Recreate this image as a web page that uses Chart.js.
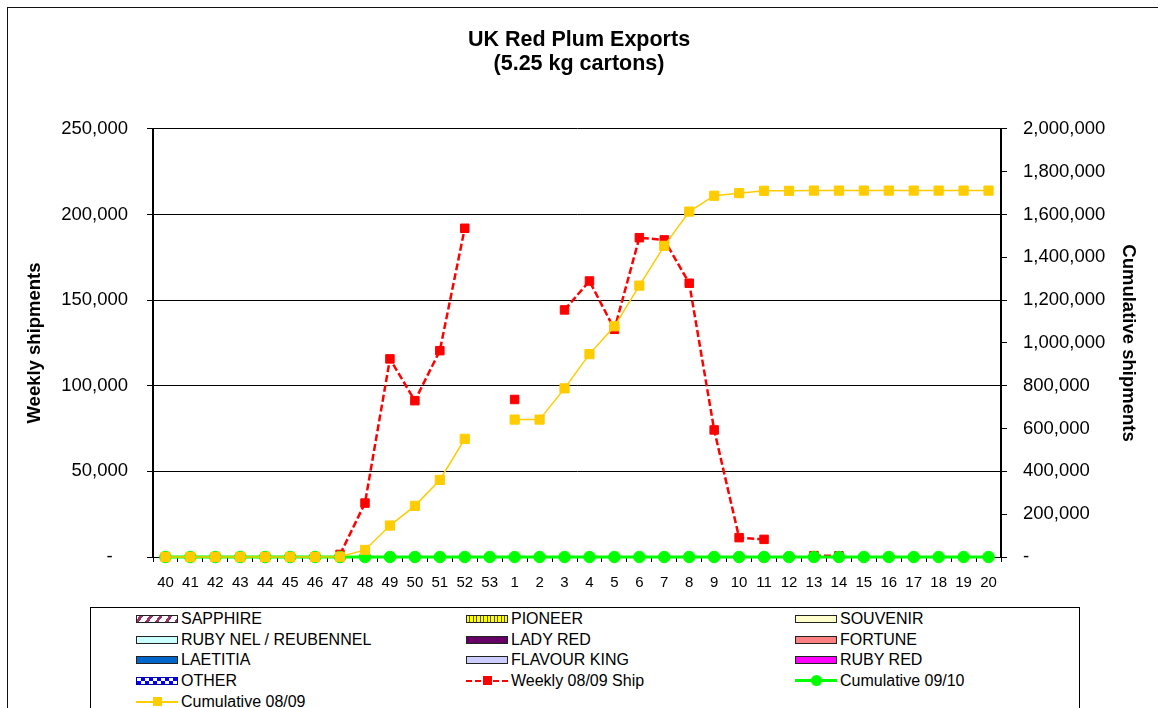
<!DOCTYPE html>
<html>
<head>
<meta charset="utf-8">
<script src="https://cdn.jsdelivr.net/npm/chart.js@4"></script>
<style>
html,body{margin:0;padding:0;background:#fff;}
#wrap{position:relative;width:1158px;height:708px;overflow:hidden;font-family:"Liberation Sans",Arial,sans-serif;background:#fff;}
#frame{position:absolute;left:7px;top:7px;width:1300px;height:900px;border-top:1px solid #111;border-left:1px solid #111;}
#c{position:absolute;left:0;top:0;}
#legend{position:absolute;left:90px;top:607px;width:988px;height:200px;border:1px solid #000;background:#fff;}
.item{position:absolute;height:20px;font-size:16px;line-height:20px;color:#000;white-space:nowrap;}
.sw{position:absolute;left:0;top:6px;width:40px;height:6px;border:1px solid #222;}
.ln{position:absolute;left:0;width:42px;}
.mk{position:absolute;}
.txt{position:absolute;left:45px;top:0;}
</style>
</head>
<body>
<div id="wrap">
  <div id="frame"></div>
  <canvas id="c" width="1158" height="708"></canvas>
  <div id="legend"></div>
</div>
<script>
// ---- data ----
const weeks = ['40','41','42','43','44','45','46','47','48','49','50','51','52','53',
               '1','2','3','4','5','6','7','8','9','10','11','12','13','14','15','16','17','18','19','20'];

const weekly0809 = [null,null,null,null,null,null,null,1500,31500,115700,91300,120500,192000,null,
                    92000,null,144300,161200,133000,186500,185200,159900,74200,11300,10300,null,800,700,null,null,null,null,null,null];

const cumulative0809 = [0,0,0,0,0,0,0,1500,33000,147000,239000,360000,552000,null,
                        642000,642000,788000,948000,1078000,1268000,1454000,1614000,1688000,1700000,1711000,1711000,1712000,1712000,1712000,1712000,1712000,1712000,1712000,1712000];

const cumulative0910 = [0,0,0,0,0,0,0,0,0,0,0,0,0,0,
                        0,0,0,0,0,0,0,0,0,0,0,0,0,0,0,0,0,0,0,0];

const noShipments = [null,null,null,null,null,null,null,null,null,null,null,null,null,null,
                     null,null,null,null,null,null,null,null,null,null,null,null,null,null,null,null,null,null,null,null];

const varieties = ['SAPPHIRE','PIONEER','SOUVENIR','RUBY NEL / REUBENNEL','LADY RED','FORTUNE',
                   'LAETITIA','FLAVOUR KING','RUBY RED','OTHER'];

const leftTicks = [0, 50000, 100000, 150000, 200000, 250000];
const rightTicksStep = 200000;

// ---- styles ----
const F = '"Liberation Sans", Arial, sans-serif';
const varietyColors = {
  'SAPPHIRE':'#993366','PIONEER':'#FFFF00','SOUVENIR':'#FFFFCC','RUBY NEL / REUBENNEL':'#CCFFFF',
  'LADY RED':'#660066','FORTUNE':'#FF8080','LAETITIA':'#0066CC','FLAVOUR KING':'#CCCCFF',
  'RUBY RED':'#FF00FF','OTHER':'#0000FF'
};
const legendFill = {
  'SAPPHIRE':'repeating-linear-gradient(125deg, #fff 0 2px, #993366 2px 5px, #fff 5px 8px)',
  'PIONEER':'repeating-linear-gradient(90deg, #FFFF00 0 2.5px, #555500 2.5px 3.5px)',
  'OTHER':'repeating-conic-gradient(#0000FF 0 25%, #fff 0 50%) 0 0 / 8px 6px'
};

const fmt = v => v.toLocaleString('en-US');

const datasets = varieties.map((name, i) => ({
  type:'bar', label:name, data:noShipments, yAxisID:'y',
  backgroundColor:varietyColors[name], borderColor:'#222', borderWidth:1, order:10+i
}));
datasets.push({
  type:'line', label:'Weekly 08/09 Ship', data:weekly0809, yAxisID:'y',
  borderColor:'#FF0000', backgroundColor:'#FF0000', borderWidth:2.5, borderDash:[7,3],
  pointStyle:'rect', pointRadius:6, pointBorderWidth:1, pointBackgroundColor:'#FF0000', pointBorderColor:'#FF0000',
  spanGaps:false, tension:0, clip:false, order:3
});
datasets.push({
  type:'line', label:'Cumulative 09/10', data:cumulative0910, yAxisID:'y2',
  borderColor:'#00FF00', backgroundColor:'#00FF00', borderWidth:3,
  pointStyle:'circle', pointRadius:5.8, pointBorderWidth:1, pointBackgroundColor:'#00FF00', pointBorderColor:'#00FF00',
  tension:0, clip:false, order:2
});
datasets.push({
  type:'line', label:'Cumulative 08/09', data:cumulative0809, yAxisID:'y2',
  borderColor:'#FFCC00', backgroundColor:'#FFCC00', borderWidth:1.5,
  pointStyle:'rect', pointRadius:6.5, pointBorderWidth:1, pointBackgroundColor:'#FFCC00', pointBorderColor:'#FFCC00',
  spanGaps:false, tension:0, clip:false, order:1
});

const chart = new Chart(document.getElementById('c'), {
  type:'bar',
  data:{ labels:weeks, datasets },
  options:{
    responsive:false, animation:false, devicePixelRatio:1,
    layout:{ padding:{ left:0, right:0, top:0, bottom:111 } },
    plugins:{
      legend:{ display:false },
      tooltip:{ enabled:false },
      title:{ display:true, text:['UK Red Plum Exports','(5.25 kg cartons)'], color:'#000',
        font:{ family:F, size:21.5, weight:'bold', lineHeight:1.12 }, padding:{ top:28, bottom:52.8 } }
    },
    scales:{
      x:{
        type:'category', offset:true,
        grid:{ offset:true, drawOnChartArea:false, drawTicks:true, tickLength:5, color:'#000', lineWidth:1 },
        border:{ display:true, color:'#000', width:1 },
        ticks:{ color:'#000', font:{ family:F, size:15 }, padding:11.5, maxRotation:0, autoSkip:false },
        afterFit(s){ s.height = 40; }
      },
      y:{
        position:'left', min:0, max:250000,
        afterBuildTicks(s){ s.ticks = leftTicks.map(v => ({ value:v })); },
        ticks:{ color:'#000', font:{ family:F, size:18.5 }, padding:19,
          callback:v => v === 0 ? '-   ' : fmt(v) },
        grid:{ color:'#000', lineWidth:1, tickLength:6, drawTicks:true },
        border:{ color:'#000', width:2 },
        title:{ display:true, text:'Weekly shipments', color:'#000',
          font:{ family:F, size:18.5, weight:'bold' }, padding:{ top:23.5, bottom:0 } },
        afterFit(s){ s.width = 153; }
      },
      y2:{
        position:'right', min:0, max:2000000,
        ticks:{ stepSize:rightTicksStep, color:'#000', font:{ family:F, size:18.5 }, padding:16,
          callback:v => v === 0 ? '-' : fmt(v) },
        grid:{ drawOnChartArea:false, color:'#000', lineWidth:1, tickLength:6, drawTicks:true },
        border:{ color:'#000', width:2 },
        title:{ display:true, text:'Cumulative shipments', color:'#000',
          font:{ family:F, size:18.5, weight:'bold' }, padding:{ top:19, bottom:0 } },
        afterFit(s){ s.width = 157; }
      }
    }
  }
});

// ---- HTML legend built from the chart's datasets ----
const legend = document.getElementById('legend');
const colLeft = [45, 375, 704];
chart.data.datasets.forEach((ds, i) => {
  const col = i % 3, row = Math.floor(i / 3);
  const item = document.createElement('div');
  item.className = 'item';
  item.style.left = colLeft[col] + 'px';
  item.style.top = (0.8 + row * 20.7) + 'px';
  if (ds.type === 'bar') {
    const sw = document.createElement('div');
    sw.className = 'sw';
    sw.style.background = legendFill[ds.label] || ds.backgroundColor;
    if (ds.label === 'OTHER') sw.style.borderColor = '#0000AA';
    item.appendChild(sw);
  } else {
    const ln = document.createElement('div');
    ln.className = 'ln';
    const w = Math.max(ds.borderWidth, 2);
    ln.style.height = w + 'px';
    ln.style.top = (10 - w / 2) + 'px';
    if (ds.borderDash) {
      ln.style.background = `repeating-linear-gradient(90deg, ${ds.borderColor} 0 6px, transparent 6px 9px)`;
    } else {
      ln.style.background = ds.borderColor;
    }
    item.appendChild(ln);
    const mk = document.createElement('div');
    mk.className = 'mk';
    const size = ds.pointStyle === 'circle' ? 11 : 9;
    mk.style.width = size + 'px';
    mk.style.height = size + 'px';
    mk.style.left = (21 - size / 2) + 'px';
    mk.style.top = (10 - size / 2) + 'px';
    mk.style.background = ds.pointBackgroundColor;
    if (ds.pointStyle === 'circle') mk.style.borderRadius = '50%';
    item.appendChild(mk);
  }
  const t = document.createElement('div');
  t.className = 'txt';
  t.textContent = ds.label;
  item.appendChild(t);
  legend.appendChild(item);
});
</script>
</body>
</html>
